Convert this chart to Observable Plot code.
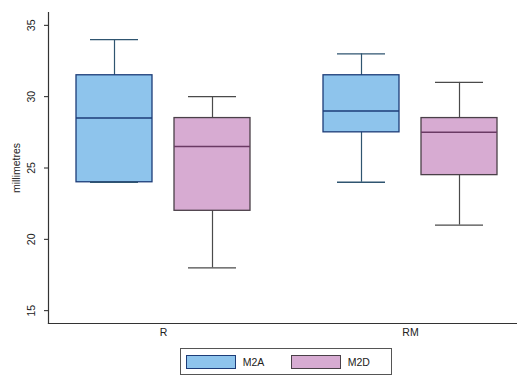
<!DOCTYPE html>
<html>
<head>
<meta charset="utf-8">
<script src="https://cdn.jsdelivr.net/npm/d3@7"></script>
<script src="https://cdn.jsdelivr.net/npm/@observablehq/plot@0.6"></script>
<style>
  html, body { margin: 0; padding: 0; background: #fff; }
  #chart { width: 517px; height: 377px; position: relative; font-family: "Liberation Sans", Arial, sans-serif; }
  #legend { position: absolute; left: 180px; top: 348px; width: 212px; height: 27px; border: 1px solid #555; box-sizing: border-box; display: flex; align-items: center; font-size: 10.5px; color: #222; }
  .sw { display: inline-block; width: 55px; height: 14px; box-sizing: border-box; border: 1px solid; margin-left: 5px; }
  .lab { margin-left: 7px; width: 48px; }
</style>
</head>
<body>
<div id="chart"></div>
<script>
const categories = ["R", "RM"];
const series = ["M2A", "M2D"];
// order: R-M2A, R-M2D, RM-M2A, RM-M2D
const mins    = [24, 18, 24, 21];
const q1s     = [24, 22, 27.5, 24.5];
const medians = [28.5, 26.5, 29, 27.5];
const q3s     = [31.5, 28.5, 31.5, 28.5];
const maxs    = [34, 30, 33, 31];
const yTicks  = [15, 20, 25, 30, 35];
const yLabel  = "millimetres";

const fills   = {M2A: "#8ec4ec", M2D: "#d7abd2"};
const strokes = {M2A: "#1d3c78", M2D: "#4a4048"};
const medCol  = {M2A: "#1d3c78", M2D: "#6a3a64"};
const whisk   = {M2A: "#2f5570", M2D: "#4a4a4a"};

const rows = [];
categories.forEach((c, i) => series.forEach((s, j) => {
  const k = i * series.length + j;
  rows.push({cat: c, ser: s, min: mins[k], q1: q1s[k], med: medians[k], q3: q3s[k], max: maxs[k]});
}));

const marks = [];
for (const s of series) {
  const d = rows.filter(r => r.ser === s);
  marks.push(
    Plot.ruleX(d, {fx: "cat", x: "ser", y1: "min", y2: "max", stroke: whisk[s], strokeWidth: 1.2}),
    Plot.barY(d, {fx: "cat", x: "ser", y1: "q1", y2: "q3", fill: fills[s], stroke: strokes[s], strokeWidth: 1.3}),
    Plot.tickY(d, {fx: "cat", x: "ser", y: "med", stroke: medCol[s], strokeWidth: 1.5}),
    Plot.tickY(d, {fx: "cat", x: "ser", y: "max", stroke: whisk[s], strokeWidth: 1.3, inset: 14}),
    Plot.tickY(d, {fx: "cat", x: "ser", y: "min", stroke: whisk[s], strokeWidth: 1.3, inset: 14})
  );
}

const chart = Plot.plot({
  width: 517,
  height: 340,
  marginLeft: 47,
  marginRight: -8,
  marginTop: 12,
  marginBottom: 17,
  style: {fontFamily: "'Liberation Sans', Arial, sans-serif", fontSize: "10.5px", color: "#222", background: "transparent"},
  fx: {domain: categories, paddingInner: 0.07, paddingOuter: 0, label: null},
  x: {domain: series, paddingInner: 0.228, paddingOuter: 0.284, axis: null},
  y: {domain: [14.1, 35.9], label: null},
  marks: [
    Plot.frame({anchor: "left", facet: "super", stroke: "#333", strokeWidth: 1.2}),
    Plot.frame({anchor: "bottom", facet: "super", stroke: "#333", strokeWidth: 1.2}),
    Plot.axisY({ticks: yTicks, tickSize: 4, tickPadding: 10, tickRotate: -90, fontSize: 10.5, label: yLabel, labelAnchor: "center", labelArrow: "none", labelOffset: 36}),
    Plot.axisFx({anchor: "bottom", tickSize: 0, tickPadding: 5, label: null, fontSize: 10.5}),
    ...marks
  ]
});
document.getElementById("chart").appendChild(chart);

const legend = document.createElement("div");
legend.id = "legend";
for (const s of series) {
  const sw = document.createElement("span");
  sw.className = "sw";
  sw.style.background = fills[s];
  sw.style.borderColor = strokes[s];
  const lab = document.createElement("span");
  lab.className = "lab";
  lab.textContent = s;
  legend.append(sw, lab);
}
document.getElementById("chart").appendChild(legend);
</script>
</body>
</html>
